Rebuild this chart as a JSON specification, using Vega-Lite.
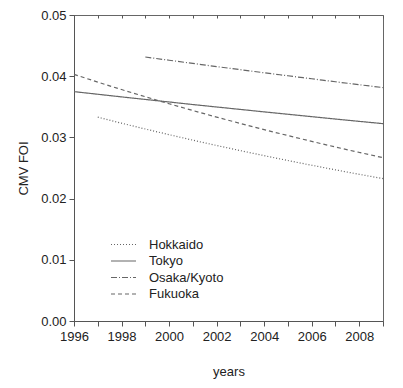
{
  "$schema": "https://vega.github.io/schema/vega-lite/v6.json",
  "width": 309,
  "height": 306,
  "autosize": "none",
  "padding": {"left": 74, "top": 15, "right": 20, "bottom": 67},
  "config": {
    "font": "Liberation Sans",
    "view": {"stroke": "#666", "strokeWidth": 1},
    "axis": {"grid": false, "domainColor": "#555", "tickColor": "#555", "labelColor": "#222", "titleColor": "#222", "labelFontSize": 13, "titleFontSize": 12, "titleFontWeight": "normal"}
  },
  "data": {"values": [
    {"year": 1997, "foi": 0.0333, "region": "Hokkaido"},
    {"year": 1998, "foi": 0.03232, "region": "Hokkaido"},
    {"year": 1999, "foi": 0.03137, "region": "Hokkaido"},
    {"year": 2000, "foi": 0.03045, "region": "Hokkaido"},
    {"year": 2001, "foi": 0.02955, "region": "Hokkaido"},
    {"year": 2002, "foi": 0.02868, "region": "Hokkaido"},
    {"year": 2003, "foi": 0.02784, "region": "Hokkaido"},
    {"year": 2004, "foi": 0.02702, "region": "Hokkaido"},
    {"year": 2005, "foi": 0.02622, "region": "Hokkaido"},
    {"year": 2006, "foi": 0.02545, "region": "Hokkaido"},
    {"year": 2007, "foi": 0.0247, "region": "Hokkaido"},
    {"year": 2008, "foi": 0.02397, "region": "Hokkaido"},
    {"year": 2009, "foi": 0.02327, "region": "Hokkaido"},
    {"year": 1996, "foi": 0.03748, "region": "Tokyo"},
    {"year": 1997, "foi": 0.03705, "region": "Tokyo"},
    {"year": 1998, "foi": 0.03662, "region": "Tokyo"},
    {"year": 1999, "foi": 0.0362, "region": "Tokyo"},
    {"year": 2000, "foi": 0.03579, "region": "Tokyo"},
    {"year": 2001, "foi": 0.03537, "region": "Tokyo"},
    {"year": 2002, "foi": 0.03497, "region": "Tokyo"},
    {"year": 2003, "foi": 0.03457, "region": "Tokyo"},
    {"year": 2004, "foi": 0.03417, "region": "Tokyo"},
    {"year": 2005, "foi": 0.03378, "region": "Tokyo"},
    {"year": 2006, "foi": 0.03339, "region": "Tokyo"},
    {"year": 2007, "foi": 0.033, "region": "Tokyo"},
    {"year": 2008, "foi": 0.03262, "region": "Tokyo"},
    {"year": 2009, "foi": 0.03225, "region": "Tokyo"},
    {"year": 1999, "foi": 0.04314, "region": "Osaka/Kyoto"},
    {"year": 2000, "foi": 0.04261, "region": "Osaka/Kyoto"},
    {"year": 2001, "foi": 0.04209, "region": "Osaka/Kyoto"},
    {"year": 2002, "foi": 0.04157, "region": "Osaka/Kyoto"},
    {"year": 2003, "foi": 0.04107, "region": "Osaka/Kyoto"},
    {"year": 2004, "foi": 0.04056, "region": "Osaka/Kyoto"},
    {"year": 2005, "foi": 0.04007, "region": "Osaka/Kyoto"},
    {"year": 2006, "foi": 0.03958, "region": "Osaka/Kyoto"},
    {"year": 2007, "foi": 0.03909, "region": "Osaka/Kyoto"},
    {"year": 2008, "foi": 0.03861, "region": "Osaka/Kyoto"},
    {"year": 2009, "foi": 0.03814, "region": "Osaka/Kyoto"},
    {"year": 1996, "foi": 0.0403, "region": "Fukuoka"},
    {"year": 1997, "foi": 0.03904, "region": "Fukuoka"},
    {"year": 1998, "foi": 0.03782, "region": "Fukuoka"},
    {"year": 1999, "foi": 0.03664, "region": "Fukuoka"},
    {"year": 2000, "foi": 0.0355, "region": "Fukuoka"},
    {"year": 2001, "foi": 0.03439, "region": "Fukuoka"},
    {"year": 2002, "foi": 0.03332, "region": "Fukuoka"},
    {"year": 2003, "foi": 0.03228, "region": "Fukuoka"},
    {"year": 2004, "foi": 0.03127, "region": "Fukuoka"},
    {"year": 2005, "foi": 0.0303, "region": "Fukuoka"},
    {"year": 2006, "foi": 0.02935, "region": "Fukuoka"},
    {"year": 2007, "foi": 0.02843, "region": "Fukuoka"},
    {"year": 2008, "foi": 0.02755, "region": "Fukuoka"},
    {"year": 2009, "foi": 0.02669, "region": "Fukuoka"}
  ]},
  "layer": [
    {
      "mark": {"type": "line", "color": "#666", "strokeWidth": 1.2, "interpolate": "monotone"},
      "encoding": {
        "x": {"field": "year", "type": "quantitative", "scale": {"domain": [1996, 2009], "nice": false, "zero": false},
          "axis": {"title": "years", "titleFontSize": 13, "titlePadding": 22, "values": [1996,1997,1998,1999,2000,2001,2002,2003,2004,2005,2006,2007,2008,2009], "labelExpr": "datum.value % 2 == 0 ? datum.value : ''", "tickSize": 5, "labelPadding": 4, "labelFlush": false}},
        "y": {"field": "foi", "type": "quantitative", "scale": {"domain": [0, 0.05], "nice": false},
          "axis": {"title": "CMV FOI", "titleFontSize": 13, "titlePadding": 10, "values": [0, 0.01, 0.02, 0.03, 0.04, 0.05], "format": ".2f", "tickSize": 5, "labelPadding": 3}},
        "strokeDash": {"field": "region", "type": "nominal",
          "scale": {"domain": ["Hokkaido", "Tokyo", "Osaka/Kyoto", "Fukuoka"], "range": [[1, 2], [1, 0], [6, 2, 1, 2], [4, 3]]},
          "legend": {"title": null, "orient": "none", "legendX": 36, "legendY": 223, "symbolType": "stroke", "symbolSize": 625, "clipHeight": 13, "symbolStrokeColor": "#666", "symbolStrokeWidth": 1.2, "labelFontSize": 13, "labelColor": "#222", "labelOffset": 12, "rowPadding": 2.5}}
      }
    },
    {
      "mark": {"type": "point", "opacity": 0},
      "encoding": {
        "x": {"field": "year", "type": "quantitative",
          "axis": {"orient": "top", "title": null, "labels": false, "values": [1996,1997,1998,1999,2000,2001,2002,2003,2004,2005,2006,2007,2008,2009], "tickSize": -3, "domain": false}}
      }
    }
  ],
  "resolve": {"axis": {"x": "independent"}}
}
